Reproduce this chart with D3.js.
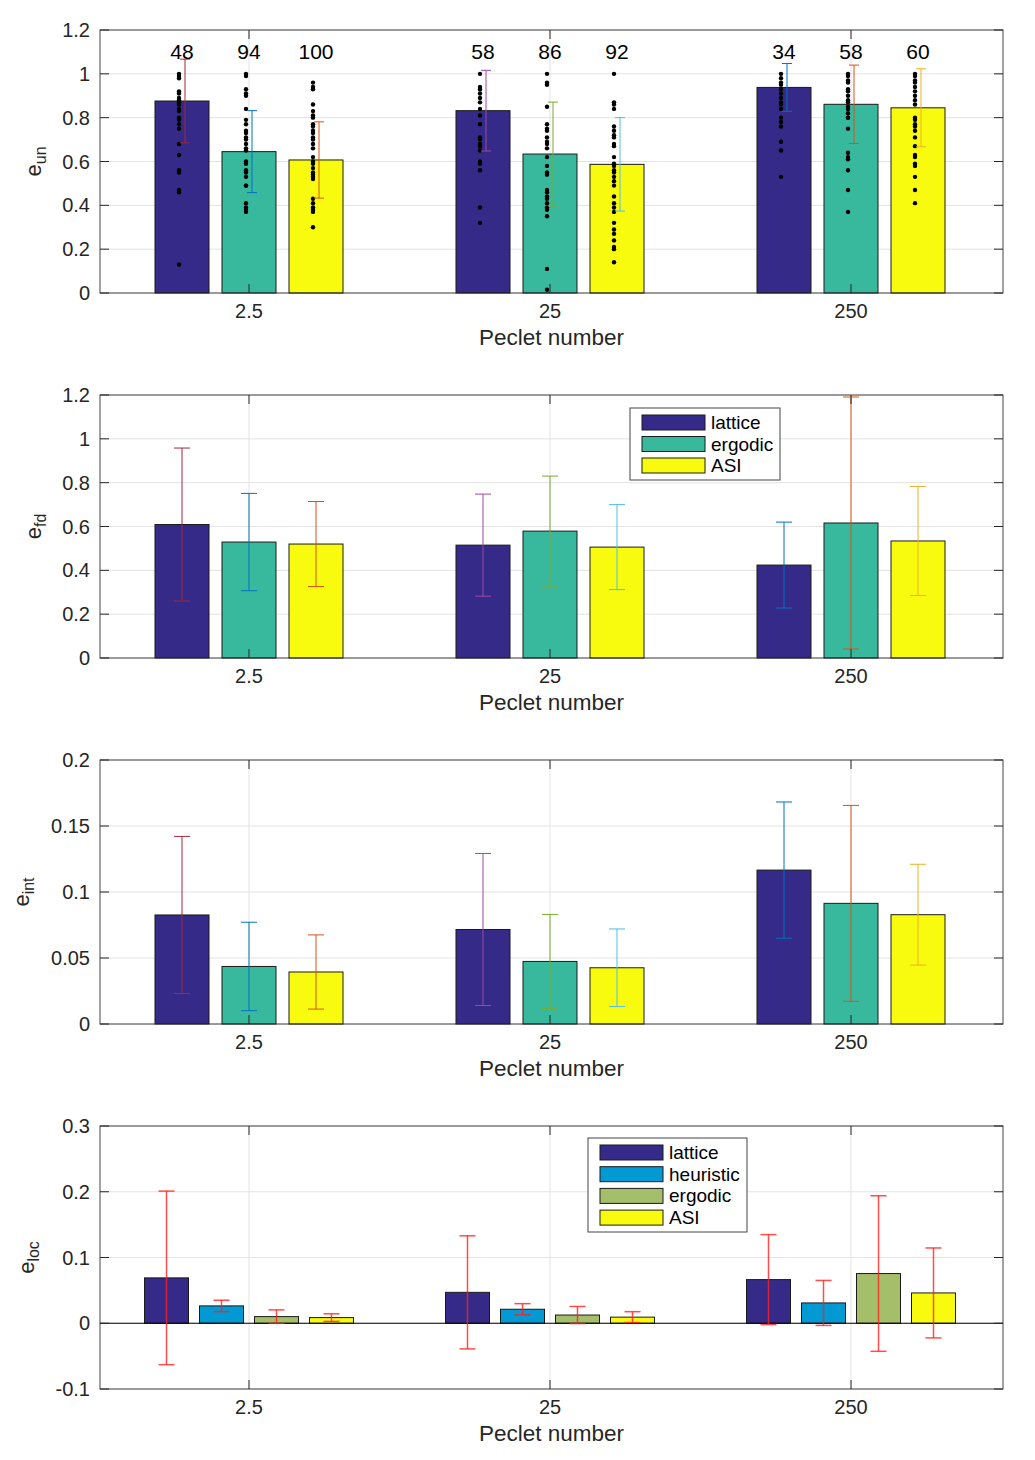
<!DOCTYPE html>
<html>
<head>
<meta charset="utf-8">
<script src="https://cdn.jsdelivr.net/npm/d3@7"></script>
<style>
  body { margin: 0; background: #fff; }
  svg { font-family: "Liberation Sans", Arial, Helvetica, sans-serif; }
</style>
</head>
<body>
<svg id="chart" width="1035" height="1460"></svg>
<script>
// categories
const pecletLabels = ["2.5", "25", "250"];
const series3 = ["lattice", "ergodic", "ASI"];
const series4 = ["lattice", "heuristic", "ergodic", "ASI"];

// panel 1: e_un (means, std, sample counts, individual samples)
const unMean = [[0.876, 0.645, 0.607], [0.832, 0.634, 0.587], [0.938, 0.861, 0.845]];
const unStd  = [[0.191, 0.187, 0.174], [0.184, 0.237, 0.213], [0.109, 0.179, 0.178]];
const unCount = [[48, 94, 100], [58, 86, 92], [34, 58, 60]];
const unSamples = [
  [
    [1.0, 0.99, 0.98, 0.92, 0.91, 0.89, 0.88, 0.87, 0.86, 0.84, 0.83, 0.80, 0.79, 0.77, 0.75, 0.68, 0.63, 0.56, 0.55, 0.47, 0.46, 0.13],
    [1.0, 0.99, 0.93, 0.91, 0.90, 0.84, 0.79, 0.77, 0.74, 0.73, 0.71, 0.70, 0.68, 0.66, 0.65, 0.60, 0.59, 0.56, 0.55, 0.53, 0.49, 0.49, 0.41, 0.39, 0.38, 0.37],
    [0.96, 0.94, 0.93, 0.86, 0.83, 0.81, 0.80, 0.77, 0.76, 0.74, 0.73, 0.71, 0.70, 0.68, 0.66, 0.62, 0.60, 0.59, 0.57, 0.55, 0.54, 0.53, 0.52, 0.43, 0.41, 0.39, 0.38, 0.37, 0.30]
  ],
  [
    [1.0, 0.94, 0.93, 0.91, 0.89, 0.87, 0.84, 0.81, 0.77, 0.71, 0.70, 0.68, 0.67, 0.65, 0.60, 0.59, 0.56, 0.39, 0.32],
    [1.0, 0.96, 0.95, 0.85, 0.77, 0.75, 0.74, 0.71, 0.69, 0.68, 0.66, 0.62, 0.58, 0.55, 0.54, 0.47, 0.46, 0.44, 0.43, 0.41, 0.39, 0.38, 0.35, 0.11, 0.015],
    [1.0, 0.87, 0.86, 0.84, 0.76, 0.74, 0.72, 0.71, 0.68, 0.67, 0.62, 0.59, 0.58, 0.56, 0.55, 0.53, 0.51, 0.49, 0.44, 0.41, 0.39, 0.37, 0.32, 0.29, 0.27, 0.24, 0.21, 0.20, 0.14]
  ],
  [
    [1.0, 0.98, 0.96, 0.95, 0.93, 0.91, 0.89, 0.87, 0.86, 0.84, 0.80, 0.78, 0.76, 0.69, 0.65, 0.53],
    [1.0, 0.99, 0.97, 0.96, 0.93, 0.92, 0.90, 0.88, 0.87, 0.85, 0.84, 0.82, 0.80, 0.80, 0.75, 0.64, 0.62, 0.61, 0.56, 0.47, 0.37],
    [1.0, 0.99, 0.97, 0.96, 0.94, 0.92, 0.90, 0.88, 0.86, 0.80, 0.79, 0.77, 0.76, 0.74, 0.71, 0.67, 0.63, 0.62, 0.59, 0.58, 0.53, 0.47, 0.41]
  ]
];

// panel 2: e_fd
const fdMean = [[0.609, 0.529, 0.520], [0.515, 0.579, 0.506], [0.424, 0.616, 0.534]];
const fdStd  = [[0.349, 0.222, 0.194], [0.233, 0.251, 0.194], [0.196, 0.575, 0.249]];

// panel 3: e_int
const intMean = [[0.0826, 0.0436, 0.0394], [0.0716, 0.0474, 0.0426], [0.1166, 0.0914, 0.0828]];
const intStd  = [[0.0595, 0.0335, 0.0281], [0.0576, 0.0356, 0.0294], [0.0516, 0.0742, 0.0382]];

// panel 4: e_loc
const locMean = [[0.069, 0.0264, 0.0101, 0.0086], [0.047, 0.0213, 0.0125, 0.0093], [0.0664, 0.0309, 0.0756, 0.0461]];
const locStd  = [[0.132, 0.0086, 0.0102, 0.0058], [0.086, 0.0085, 0.013, 0.0083], [0.0684, 0.0342, 0.1183, 0.0684]];

const barColors3 = ["#352a87", "#38b99e", "#f9fb0e"];
const barColors4 = ["#352a87", "#0399d2", "#a5be6a", "#f9fb0e"];
const errColors3 = [["#a2283c", "#0072bd", "#d95319"], ["#9a4aa8", "#77ac30", "#4dbeee"], ["#0072bd", "#d95319", "#edb120"]];

const svg = d3.select("#chart");
const plotLeft = 100, plotRight = 1003;
const axisColor = "#262626";

function drawPanel(cfg) {
  const g = svg.append("g");
  const y = d3.scaleLinear().domain(cfg.yDomain).range([cfg.bottom, cfg.top]);
  const x0 = d3.scaleBand().domain(pecletLabels).range([plotLeft - 1.5, plotRight - 1.5]);
  const x1 = d3.scaleBand().domain(cfg.series)
    .range([-cfg.groupHalf, cfg.groupHalf])
    .paddingInner(cfg.padIn).paddingOuter(cfg.padOut);
  const cx = (ci) => x0(pecletLabels[ci]) + x0.bandwidth() / 2;

  // grid
  g.append("g").selectAll("line").data(cfg.ticks).join("line")
    .attr("x1", plotLeft).attr("x2", plotRight)
    .attr("y1", d => y(d)).attr("y2", d => y(d))
    .attr("stroke", "#e3e3e3").attr("stroke-width", 1);
  g.append("g").selectAll("line").data(pecletLabels).join("line")
    .attr("x1", d => x0(d) + x0.bandwidth() / 2).attr("x2", d => x0(d) + x0.bandwidth() / 2)
    .attr("y1", cfg.top).attr("y2", cfg.bottom)
    .attr("stroke", "#e3e3e3").attr("stroke-width", 1);

  // bars
  const flat = [];
  pecletLabels.forEach((c, ci) => cfg.series.forEach((s, si) => {
    flat.push({ ci, si, mean: cfg.mean[ci][si], sd: cfg.std[ci][si] });
  }));
  g.append("g").selectAll("rect").data(flat).join("rect")
    .attr("x", d => cx(d.ci) + x1(cfg.series[d.si]))
    .attr("width", x1.bandwidth())
    .attr("y", d => Math.min(y(d.mean), y(0)))
    .attr("height", d => Math.abs(y(0) - y(d.mean)))
    .attr("fill", d => cfg.colors[d.si])
    .attr("stroke", "#1a1a1a").attr("stroke-width", 1);

  // zero baseline when domain goes negative
  if (cfg.yDomain[0] < 0) {
    g.append("line").attr("x1", plotLeft).attr("x2", plotRight)
      .attr("y1", y(0)).attr("y2", y(0)).attr("stroke", "#000").attr("stroke-width", 1.2);
  }

  // sample dots
  if (cfg.samples) {
    flat.forEach(d => {
      const bx = cx(d.ci) + x1(cfg.series[d.si]) + x1.bandwidth() / 2 + cfg.dotOffset;
      g.append("g").selectAll("circle").data(cfg.samples[d.ci][d.si]).join("circle")
        .attr("cx", bx).attr("cy", v => y(v)).attr("r", 2.2).attr("fill", "#000");
    });
  }

  // error bars
  const eb = g.append("g").selectAll("g").data(flat).join("g")
    .attr("stroke", d => cfg.errColor(d)).attr("stroke-width", cfg.errWidth)
    .attr("stroke-opacity", cfg.errOpacity);
  const ex = d => cx(d.ci) + x1(cfg.series[d.si]) + x1.bandwidth() / 2 + cfg.errOffset;
  eb.append("line").attr("x1", ex).attr("x2", ex)
    .attr("y1", d => y(d.mean - d.sd)).attr("y2", d => y(d.mean + d.sd));
  [-1, 1].forEach(sgn => {
    eb.append("line")
      .attr("x1", d => ex(d) - cfg.cap).attr("x2", d => ex(d) + cfg.cap)
      .attr("y1", d => y(d.mean + sgn * d.sd)).attr("y2", d => y(d.mean + sgn * d.sd));
  });

  // counts above bars
  if (cfg.counts) {
    g.append("g").selectAll("text").data(flat).join("text")
      .attr("x", d => cx(d.ci) + x1(cfg.series[d.si]) + x1.bandwidth() / 2)
      .attr("y", y(1.1) + 7)
      .attr("text-anchor", "middle").attr("font-size", 21).attr("fill", "#000")
      .text(d => cfg.counts[d.ci][d.si]);
  }

  // box + ticks
  g.append("rect").attr("x", plotLeft).attr("y", cfg.top)
    .attr("width", plotRight - plotLeft).attr("height", cfg.bottom - cfg.top)
    .attr("fill", "none").attr("stroke", axisColor).attr("stroke-width", 1).attr("stroke-opacity", 0.85);
  const tk = 9;
  g.append("g").selectAll("line").data(cfg.ticks).join("line")
    .attr("x1", plotLeft).attr("x2", plotLeft + tk)
    .attr("y1", d => y(d)).attr("y2", d => y(d)).attr("stroke", axisColor);
  g.append("g").selectAll("line").data(cfg.ticks).join("line")
    .attr("x1", plotRight - tk).attr("x2", plotRight)
    .attr("y1", d => y(d)).attr("y2", d => y(d)).attr("stroke", axisColor);
  pecletLabels.forEach((c, ci) => {
    g.append("line").attr("x1", cx(ci)).attr("x2", cx(ci))
      .attr("y1", cfg.bottom).attr("y2", cfg.bottom - tk).attr("stroke", axisColor);
    g.append("line").attr("x1", cx(ci)).attr("x2", cx(ci))
      .attr("y1", cfg.top).attr("y2", cfg.top + tk).attr("stroke", axisColor);
  });

  // tick labels
  g.append("g").selectAll("text").data(cfg.ticks).join("text")
    .attr("x", plotLeft - 10).attr("y", d => y(d) + 7)
    .attr("text-anchor", "end").attr("font-size", 20).attr("fill", axisColor)
    .text(d => cfg.fmt(d));
  g.append("g").selectAll("text").data(pecletLabels).join("text")
    .attr("x", (d, i) => cx(i)).attr("y", cfg.bottom + 25)
    .attr("text-anchor", "middle").attr("font-size", 20).attr("fill", axisColor)
    .text(d => d);
  g.append("text").attr("x", (plotLeft + plotRight) / 2).attr("y", cfg.bottom + 52)
    .attr("text-anchor", "middle").attr("font-size", 22.5).attr("fill", axisColor)
    .text("Peclet number");

  // y label with subscript
  const ymid = (cfg.top + cfg.bottom) / 2;
  const yl = g.append("text")
    .attr("transform", `translate(${cfg.ylabelX},${ymid}) rotate(-90)`)
    .attr("text-anchor", "middle").attr("font-size", 22).attr("fill", axisColor);
  yl.append("tspan").text("e");
  yl.append("tspan").attr("font-size", 16).attr("dy", 5).text(cfg.ysub);

  // legend
  if (cfg.legend) {
    const L = cfg.legend;
    const lg = g.append("g");
    lg.append("rect").attr("x", L.x).attr("y", L.y).attr("width", L.w).attr("height", L.h)
      .attr("fill", "#fff").attr("stroke", "#444").attr("stroke-width", 1);
    cfg.series.forEach((s, i) => {
      const ry = L.y + 7 + i * L.row;
      lg.append("rect").attr("x", L.x + 12).attr("y", ry).attr("width", 63).attr("height", 15)
        .attr("fill", cfg.colors[i]).attr("stroke", "#1a1a1a");
      lg.append("text").attr("x", L.x + 81).attr("y", ry + 14)
        .attr("font-size", 19).attr("fill", "#000").text(s);
    });
  }
}

// plain hyphen-minus like the original, no trailing zeros
const fmtPlain = d => d3.format("~g")(d).replace("\u2212", "-");

drawPanel({
  top: 30, bottom: 293, yDomain: [0, 1.2], ticks: d3.range(0, 1.21, 0.2).map(v => +v.toFixed(2)),
  fmt: fmtPlain, series: series3, colors: barColors3, mean: unMean, std: unStd,
  groupHalf: 100.5, padIn: 0.194, padOut: 0.097,
  samples: unSamples, dotOffset: -3, counts: unCount,
  errColor: d => errColors3[d.ci][d.si], errWidth: 1, errOpacity: 1, errOffset: 3, cap: 5,
  ysub: "un", ylabelX: 41
});
drawPanel({
  top: 395, bottom: 658, yDomain: [0, 1.2], ticks: d3.range(0, 1.21, 0.2).map(v => +v.toFixed(2)),
  fmt: fmtPlain, series: series3, colors: barColors3, mean: fdMean, std: fdStd,
  groupHalf: 100.5, padIn: 0.194, padOut: 0.097,
  errColor: d => errColors3[d.ci][d.si], errWidth: 1, errOpacity: 1, errOffset: 0, cap: 8,
  ysub: "fd", ylabelX: 41,
  legend: { x: 630, y: 408, w: 150, h: 72, row: 21.5 }
});
drawPanel({
  top: 760, bottom: 1024, yDomain: [0, 0.2], ticks: [0, 0.05, 0.1, 0.15, 0.2],
  fmt: fmtPlain, series: series3, colors: barColors3, mean: intMean, std: intStd,
  groupHalf: 100.5, padIn: 0.194, padOut: 0.097,
  errColor: d => errColors3[d.ci][d.si], errWidth: 1, errOpacity: 1, errOffset: 0, cap: 8,
  ysub: "int", ylabelX: 29
});
drawPanel({
  top: 1126, bottom: 1389, yDomain: [-0.1, 0.3], ticks: [-0.1, 0, 0.1, 0.2, 0.3],
  fmt: fmtPlain, series: series4, colors: barColors4, mean: locMean, std: locStd,
  groupHalf: 110, padIn: 0.2, padOut: 0.1,
  errColor: () => "#ff2020", errWidth: 1.5, errOpacity: 0.8, errOffset: 0, cap: 8,
  ysub: "loc", ylabelX: 34,
  legend: { x: 588, y: 1138, w: 159, h: 94, row: 21.7 }
});
</script>
</body>
</html>
